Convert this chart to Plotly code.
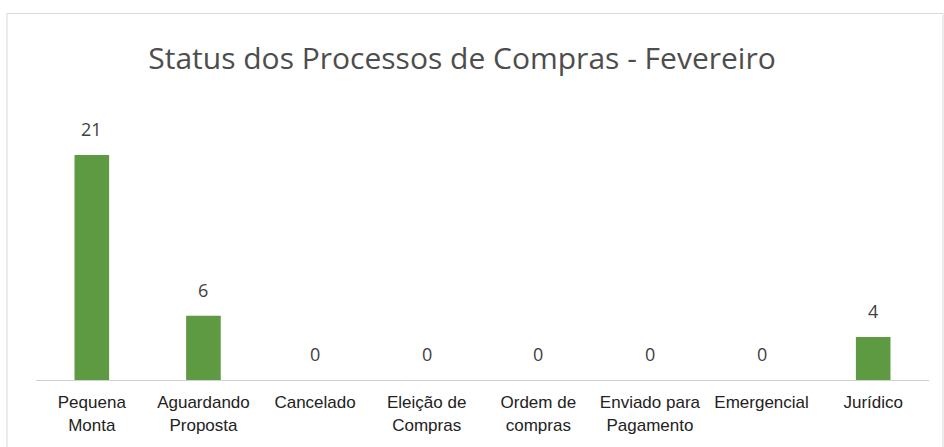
import plotly.graph_objects as go

categories = ["Pequena<br>Monta", "Aguardando<br>Proposta", "Cancelado", "Eleição de<br>Compras",
              "Ordem de<br>compras", "Enviado para<br>Pagamento", "Emergencial", "Jurídico"]
values = [21, 6, 0, 0, 0, 0, 0, 4]
labels = [str(v) for v in values]

L, R, T, B = 36, 15, 112, 63
W, H = 944, 447
pw, ph = W - L - R, H - T - B

fig = go.Figure(go.Bar(
    x=categories, y=values,
    marker=dict(color="#5e9a42", line=dict(width=0)),
    hoverinfo="x+y",
))

for c, v, t in zip(categories, values, labels):
    fig.add_annotation(x=c, y=v, text=t, showarrow=False, yanchor="bottom", yshift=12,
                       font=dict(family="Open Sans", size=18, color="#404040"))

fig.update_layout(
    width=W, height=H,
    margin=dict(l=L, r=R, t=T, b=B),
    paper_bgcolor="white", plot_bgcolor="white",
    bargap=0.69,
    showlegend=False,
    title=dict(text="Status dos Processos de Compras - Fevereiro", x=462 / W,
               xanchor="center", xref="container",
               y=1 - 58 / H, yanchor="middle",
               font=dict(family="Open Sans", size=30, color="#4d4d4d")),
    xaxis=dict(showline=True, linecolor="#cfcfcf", linewidth=1, ticks="",
               tickfont=dict(family="Liberation Sans", size=17, color="#222222"),
               ticklabelstandoff=7, showgrid=False),
    yaxis=dict(range=[0, 25], visible=False, showgrid=False),
    shapes=[dict(type="rect", xref="paper", yref="paper",
                 x0=(7 - L) / pw, x1=(943 - L) / pw,
                 y0=(H - T - 445) / ph, y1=(H - B - 12) / ph,
                 line=dict(color="#d9d9d9", width=1), layer="below")],
)

fig.write_html("out.html", config={"displayModeBar": False},
               post_script="document.body.style.margin='0';")
